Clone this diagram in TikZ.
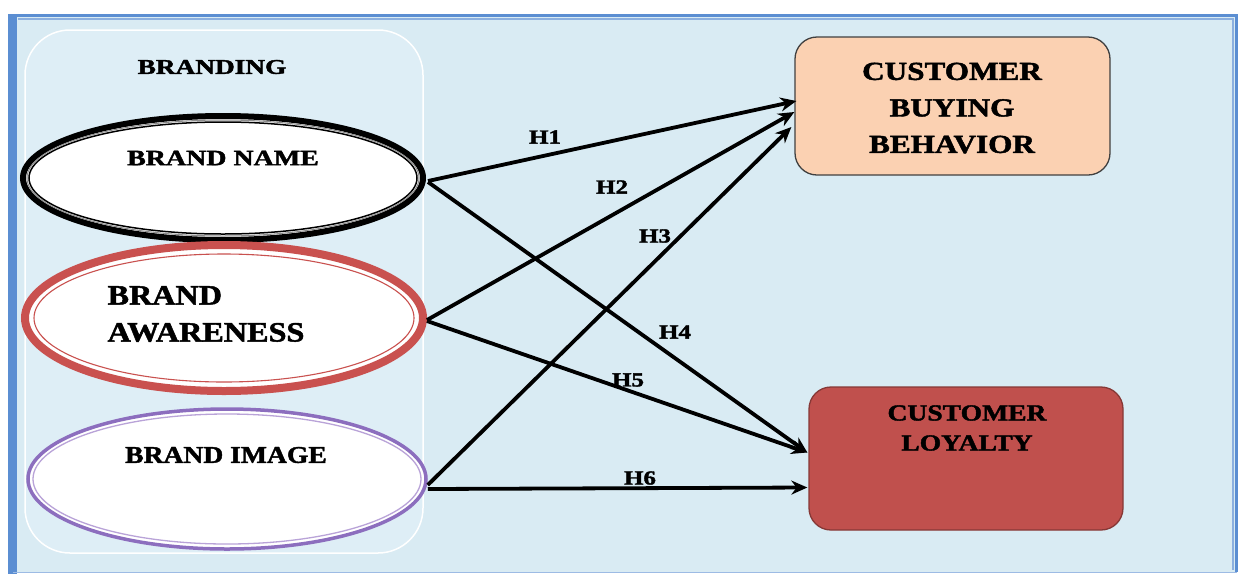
\documentclass[tikz,border=0pt]{standalone}
\usepackage{fontspec}
\setmainfont{Liberation Serif}[BoldFeatures={FakeBold=1.6}]
\usepackage{graphicx}
\usetikzlibrary{shapes.geometric,arrows.meta,calc}
\definecolor{bgblue}{HTML}{D9EBF3}
\definecolor{grpblue}{HTML}{DEEEF6}
\definecolor{frameblue}{HTML}{5B8ED2}
\definecolor{awred}{HTML}{C9514F}
\definecolor{impurple}{HTML}{8C6EBE}
\definecolor{impurplelt}{HTML}{B9A3D8}
\definecolor{peach}{HTML}{FBD1B2}
\definecolor{loyred}{HTML}{C0504D}
\newcommand{\wt}[2][1.27]{\scalebox{#1}[1]{#2}}
\begin{document}
\begin{tikzpicture}[x=1pt,y=-1pt,
  txt/.style={inner sep=0pt,font=\bfseries\fontsize{21}{25}\selectfont,text=black},
  oval/.style={ellipse,inner sep=0pt,fill=white},
  box/.style={rectangle,rounded corners=22pt,inner sep=0pt,line width=1.3pt},
  arr/.style={line width=3.8pt,-{Stealth[length=16pt,width=14pt]}},
  hlab/.style={txt,font=\bfseries\fontsize{20}{24}\selectfont}]
\useasboundingbox (0,0) rectangle (1241,574);
\fill[white] (0,0) rectangle (1241,574);
% frame
\fill[bgblue] (12,15) rectangle (1237,572);
\draw[frameblue,line width=3pt] (13,15.5) -- (1236,15.5) -- (1236,572);
\draw[frameblue!70,line width=1.2pt] (18,19) -- (1233,19) -- (1233,570);
\fill[frameblue] (8,14) rectangle (17,574);
\draw[frameblue!60!white,line width=1pt] (13,572.5) -- (1237,572.5);
% group box
\draw[white,line width=1.5pt,fill=grpblue,rounded corners=45pt] (25,30) rectangle (423,553);
\node[txt] (brd) at (212,67) {\wt[1.3]{BRANDING}};
% ellipses
\node[oval,draw=black,line width=6pt,minimum width=400pt,minimum height=124pt] (bn) at (223,178) {};
\draw[black!45,line width=1pt] (bn.center) ellipse [x radius=196pt,y radius=58pt];
\draw[black,line width=1.5pt] (bn.center) ellipse [x radius=194pt,y radius=56pt];
\node[txt,font=\bfseries\fontsize{22}{26}\selectfont] (bnt) at (223,158) {\wt{BRAND NAME}};

\node[oval,draw=awred,line width=8pt,minimum width=398pt,minimum height=146pt] (ba) at (224,318) {};
\draw[awred,line width=1.1pt] (ba.center) ellipse [x radius=190pt,y radius=64pt];
\node[txt,font=\bfseries\fontsize{28}{37}\selectfont,align=left] (bat) at (206,314) {\wt[1.15]{BRAND}\\\wt[1.15]{AWARENESS}};

\node[oval,draw=impurple,line width=3.5pt,minimum width=398pt,minimum height=140pt] (bi) at (227,479) {};
\draw[impurplelt,line width=1.3pt] (bi.center) ellipse [x radius=194pt,y radius=65pt];
\node[txt,font=\bfseries\fontsize{24}{28}\selectfont] (bit) at (226,455) {\wt[1.15]{BRAND IMAGE}};

% boxes
\node[box,fill=peach,draw=black!75,minimum width=315pt,minimum height=138pt] (cbb) at (952.5,106) {};
\node[txt,font=\bfseries\fontsize{26}{36.5}\selectfont,align=center] (cbbt) at (952,108) {\wt[1.2]{CUSTOMER}\\\wt[1.2]{BUYING}\\\wt[1.2]{BEHAVIOR}};
\node[box,fill=loyred,draw=loyred!70!black,minimum width=314pt,minimum height=143pt] (cl) at (966,458.5) {};
\node[txt,font=\bfseries\fontsize{23}{30}\selectfont,align=center] (clt) at (967,428) {\wt[1.2]{CUSTOMER}\\\wt[1.2]{LOYALTY}};

% arrows
\draw[arr] ($(bn.east)+(2,3)$) -- ($(cbb.west)+(2,-5)$);
\draw[arr] ($(ba.east)+(0,2)$) -- ($(cbb.west)+(0,6)$);
\draw[arr] ($(bi.east)+(0,6)$) -- ($(cbb.west)+(-3,21)$);
\draw[arr] ($(bn.east)+(2,4)$) -- ($(cl.west)+(-1,-6)$);
\draw[arr] ($(ba.east)+(0,3)$) -- ($(cl.west)+(-1,-6)$);
\draw[arr] ($(bi.east)+(0,10)$) -- ($(cl.west)+(-1,29)$);

\node[hlab] (h1) at (545,137) {\wt[1.25]{H1}};
\node[hlab] (h2) at (612,187) {\wt[1.25]{H2}};
\node[hlab] (h3) at (655,236) {\wt[1.25]{H3}};
\node[hlab] (h4) at (675,332) {\wt[1.25]{H4}};
\node[hlab] (h5) at (628,380) {\wt[1.25]{H5}};
\node[hlab] (h6) at (640,478) {\wt[1.25]{H6}};
\end{tikzpicture}
\end{document}
